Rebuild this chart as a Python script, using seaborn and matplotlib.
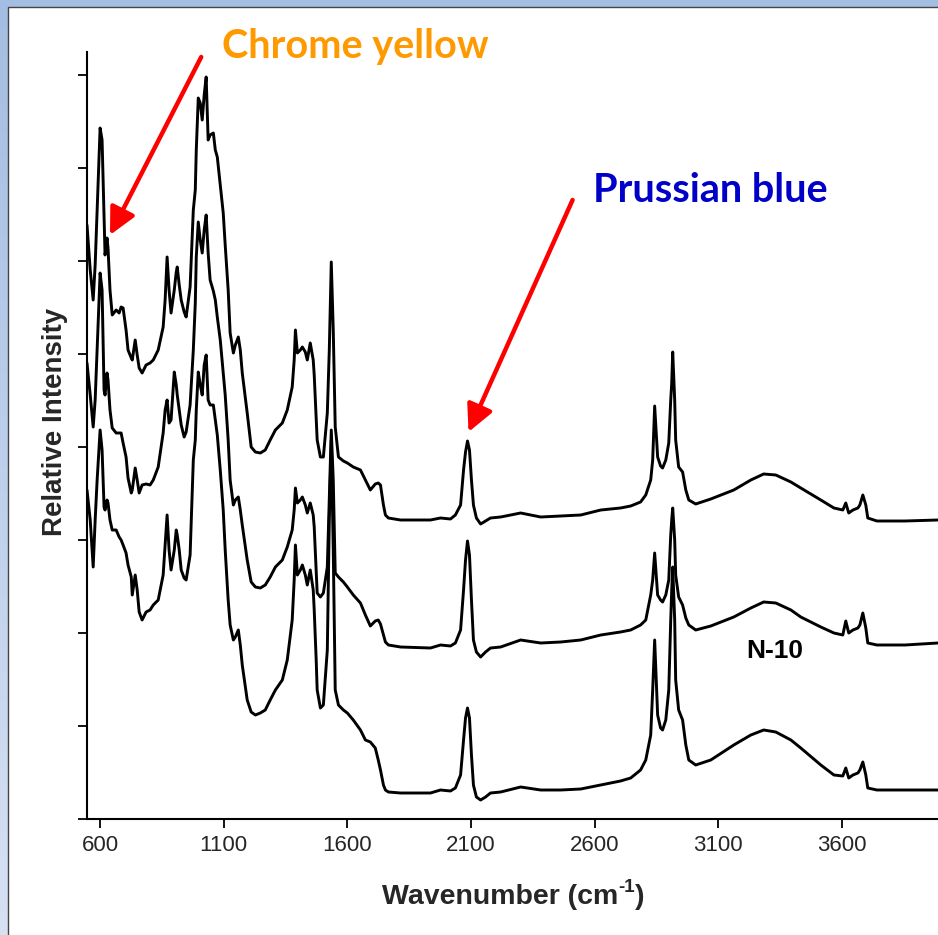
import numpy as np
import pandas as pd
import matplotlib
matplotlib.use("Agg")
import matplotlib.pyplot as plt
import matplotlib.patches as mpatches
import seaborn as sns

# ---------------- data ----------------
wavenumber = [547, 560, 572, 580, 588, 600, 608, 616, 620, 628, 632, 640, 649, 665, 677, 685, 693, 705, 713, 726,
              730, 742, 750, 758, 770, 786, 802, 815, 835, 855, 863, 871, 879, 887, 900, 908, 912, 920, 928, 940,
              948, 964, 977, 985, 989, 997, 1005, 1013, 1021, 1029, 1037, 1045, 1058, 1066, 1074, 1086, 1098, 1106, 1118, 1126,
              1139, 1147, 1159, 1167, 1175, 1195, 1211, 1228, 1248, 1268, 1288, 1309, 1337, 1357, 1377, 1385, 1390, 1398, 1410, 1418,
              1430, 1438, 1450, 1462, 1466, 1474, 1478, 1491, 1503, 1519, 1527, 1535, 1543, 1551, 1564, 1584, 1600, 1624, 1653, 1673,
              1693, 1713, 1725, 1734, 1746, 1754, 1766, 1815, 1936, 1977, 2017, 2037, 2058, 2070, 2078, 2086, 2094, 2102, 2110, 2122,
              2139, 2159, 2179, 2220, 2301, 2382, 2463, 2544, 2625, 2705, 2746, 2786, 2807, 2827, 2835, 2843, 2851, 2855, 2867, 2875,
              2888, 2900, 2908, 2912, 2916, 2924, 2928, 2940, 2956, 2969, 2981, 3009, 3070, 3163, 3232, 3284, 3333, 3394, 3434, 3515,
              3568, 3604, 3616, 3628, 3645, 3665, 3673, 3685, 3697, 3705, 3742, 3855, 3989]

spectrum_top = [594, 549, 519, 554, 609, 691, 679, 604, 564, 581, 571, 529, 504, 509, 506, 512, 511, 489, 469, 461,
                459, 479, 464, 451, 446, 454, 456, 459, 469, 492, 519, 562, 529, 506, 529, 547, 552, 534, 519, 507,
                502, 532, 609, 629, 669, 721, 716, 699, 724, 742, 679, 684, 686, 669, 662, 634, 606, 574, 529, 486,
                466, 474, 482, 469, 446, 406, 372, 367, 366, 369, 379, 389, 396, 409, 432, 459, 489, 466, 469, 472,
                467, 459, 476, 459, 444, 399, 379, 362, 362, 406, 469, 557, 489, 392, 362, 358, 356, 352, 349, 339,
                329, 335, 336, 334, 314, 304, 301, 299, 299, 301, 300, 304, 314, 349, 367, 378, 369, 339, 314, 301,
                295, 298, 301, 302, 306, 302, 303, 304, 309, 311, 313, 317, 324, 339, 359, 413, 379, 362, 353, 351,
                359, 376, 419, 436, 467, 419, 379, 352, 347, 329, 319, 315, 320, 329, 339, 345, 344, 337, 331, 319,
                311, 309, 316, 306, 309, 311, 314, 324, 314, 301, 298, 298, 299]

spectrum_mid = [456, 424, 392, 419, 469, 546, 529, 429, 424, 446, 439, 409, 391, 386, 386, 386, 376, 362, 341, 326,
                329, 351, 339, 326, 334, 335, 334, 339, 352, 386, 409, 419, 396, 399, 447, 434, 424, 409, 394, 382,
                387, 414, 469, 516, 562, 597, 579, 566, 589, 604, 566, 539, 528, 519, 502, 479, 446, 424, 379, 339,
                314, 319, 322, 309, 294, 259, 237, 232, 231, 234, 242, 252, 259, 272, 289, 309, 331, 316, 319, 322,
                314, 306, 316, 304, 292, 249, 226, 222, 226, 252, 319, 389, 339, 246, 242, 237, 232, 224, 216, 204,
                193, 198, 199, 195, 184, 177, 174, 172, 171, 174, 173, 176, 189, 229, 259, 278, 264, 219, 179, 167,
                162, 167, 171, 172, 179, 176, 177, 179, 184, 187, 189, 194, 199, 224, 239, 266, 239, 224, 219, 217,
                224, 239, 284, 299, 311, 279, 244, 222, 214, 201, 194, 189, 193, 202, 211, 217, 216, 209, 202, 192,
                186, 184, 198, 186, 189, 191, 194, 206, 191, 176, 174, 174, 176]

spectrum_bot = [329, 299, 252, 299, 339, 389, 369, 312, 309, 319, 316, 299, 289, 289, 282, 279, 274, 266, 254, 242,
                224, 244, 229, 207, 199, 207, 209, 214, 219, 244, 274, 304, 269, 249, 269, 289, 284, 269, 249, 241,
                239, 264, 359, 379, 409, 447, 434, 424, 454, 464, 419, 414, 414, 399, 384, 349, 309, 269, 219, 194,
                179, 182, 189, 174, 154, 119, 107, 104, 106, 109, 119, 129, 139, 159, 199, 239, 274, 244, 249, 254,
                244, 234, 249, 229, 209, 159, 129, 111, 114, 169, 299, 379, 269, 129, 114, 109, 106, 99, 89, 79,
                77, 71, 59, 49, 34, 29, 27, 26, 26, 29, 28, 31, 44, 79, 101, 111, 101, 64, 34, 22,
                19, 22, 26, 27, 32, 29, 29, 30, 34, 38, 41, 49, 59, 84, 129, 179, 129, 104, 91, 89,
                99, 129, 199, 229, 252, 199, 139, 109, 99, 74, 59, 54, 59, 74, 84, 89, 87, 79, 71, 54,
                44, 43, 51, 41, 44, 46, 49, 57, 44, 31, 29, 29, 29]

x_ticks = [600, 1100, 1600, 2100, 2600, 3100, 3600]
y_ticks = [0, 93, 186, 279, 372, 465, 558, 651, 744]

labels = {"chrome": "Chrome yellow", "prussian": "Prussian blue", "sample": "N-10"}

# ---------------- style ----------------
sns.set_style("ticks")
plt.rcParams["font.family"] = ["Liberation Sans", "DejaVu Sans"]

W, H = 938, 935
fig = plt.figure(figsize=(W / 100, H / 100), dpi=100)

# background gradient + white panel
bg = fig.add_axes([0, 0, 1, 1], zorder=-10)
grad = np.linspace(0, 1, 256).reshape(-1, 1)
top_c = np.array([164, 189, 226]) / 255
bot_c = np.array([214, 225, 243]) / 255
img = top_c[None, None, :] * (1 - grad[:, :, None]) + bot_c[None, None, :] * grad[:, :, None]
bg.imshow(img, aspect="auto", extent=[0, 1, 0, 1], origin="upper")
bg.add_patch(mpatches.Rectangle((8 / W, -0.01), 1.0, 1 - 7 / H + 0.01, facecolor="white",
                                edgecolor="#444444", lw=1.0))
bg.set_xlim(0, 1)
bg.set_ylim(0, 1)
bg.axis("off")

ax = fig.add_axes([87 / W, 116 / H, 851 / W, 767 / H])
ax.set_facecolor("white")

df = pd.DataFrame({"wn": wavenumber, "top": spectrum_top, "mid": spectrum_mid, "bot": spectrum_bot})
for col in ["top", "mid", "bot"]:
    sns.lineplot(data=df, x="wn", y=col, ax=ax, color="black", lw=2.1, estimator=None, sort=False)

ax.set_xlim(547, 3989)
ax.set_ylim(0, 767)
ax.set_xticks(x_ticks)
ax.set_xticklabels([str(t) for t in x_ticks])
ax.set_yticks(y_ticks)
ax.set_yticklabels([])
ax.tick_params(axis="both", direction="out", length=6.5, width=1.3, color="black")
ax.tick_params(axis="x", labelsize=16, pad=5)
for s in ["top", "right"]:
    ax.spines[s].set_visible(False)
for s in ["left", "bottom"]:
    ax.spines[s].set_linewidth(1.5)
    ax.spines[s].set_color("black")

# x label built from pieces so that the superscript uses a plain hyphen
ax.set_xlabel("")
lab_y = -(904 - 819) / 767
main = ax.text(0.0, lab_y, "Wavenumber (cm", transform=ax.transAxes, fontsize=20.5,
               fontweight="bold", ha="left", va="baseline")
sup = ax.text(0.0, lab_y, "-1", transform=ax.transAxes, fontsize=13.5,
              fontweight="bold", ha="left", va="baseline")
close = ax.text(0.0, lab_y, ")", transform=ax.transAxes, fontsize=20.5,
                fontweight="bold", ha="left", va="baseline")
fig.canvas.draw()
r = fig.canvas.get_renderer()
w_main = main.get_window_extent(r).width
w_sup = sup.get_window_extent(r).width
x0_px = 382  # left edge of the label in the reference (figure px)
ax_x0 = ax.transAxes.transform((0, 0))[0]
ax_w = ax.transAxes.transform((1, 0))[0] - ax_x0
main.set_x((x0_px - ax_x0) / ax_w)
sup.set_x((x0_px + w_main - ax_x0) / ax_w)
sup.set_y(lab_y + 12 / 767)
close.set_x((x0_px + w_main + w_sup - ax_x0) / ax_w)

ax.set_ylabel("Relative Intensity", fontsize=20, fontweight="bold")
ax.yaxis.set_label_coords(-0.0223, 0.518)

# arrows
arrow_kw = dict(arrowstyle="-|>,head_length=0.9,head_width=0.45", color="#ff0000", lw=3.2,
                shrinkA=0, shrinkB=0, mutation_scale=18)
ax.annotate("", xy=(640, 584), xytext=(1009, 762), arrowprops=arrow_kw, annotation_clip=False)
ax.annotate("", xy=(2090, 387), xytext=(2511, 619), arrowprops=arrow_kw, annotation_clip=False)

ax.text(1094, 761, labels["chrome"], color="#ff9900", fontsize=28.5, fontweight="bold",
        family=["Lato", "DejaVu Sans"], va="baseline", ha="left", clip_on=False)
ax.text(2592, 617, labels["prussian"], color="#0000c8", fontsize=28.5, fontweight="bold",
        family=["Lato", "DejaVu Sans"], va="baseline", ha="left", clip_on=False)
ax.text(3212, 161, labels["sample"], color="black", fontsize=19, fontweight="bold",
        va="baseline", ha="left")

fig.savefig("out.png", dpi=100)
